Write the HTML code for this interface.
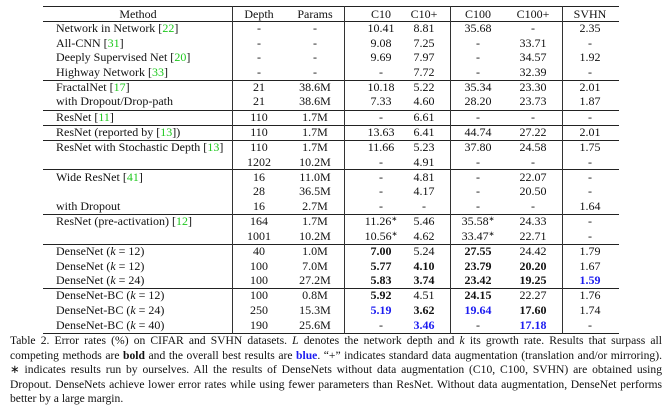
<!DOCTYPE html>
<html><head><meta charset="utf-8">
<style>
body{margin:0;width:664px;height:408px;background:#fff;position:relative;overflow:hidden;font-family:"Liberation Serif",serif;color:#111}
.c{position:absolute;font-size:12px;line-height:14px;white-space:nowrap;transform:translate(-50%,-50%)}
.m{position:absolute;font-size:12px;line-height:14px;white-space:nowrap;transform:translateY(-50%)}
.h{position:absolute;background:#222;height:1px}
.v{position:absolute;background:#333;width:1px}
.g{color:#1ec81e}
.st{font-size:7px;position:relative;top:-4px;line-height:0}
b.bl,.bl{color:#1c1cf0;font-weight:bold}
#cap{position:absolute;left:10px;top:334px;width:652px;font-size:11.6px;line-height:14.6px;text-align:justify;text-align-last:left}
</style></head><body>
<div id="tbl"></div>
<div id="cap">Table 2. Error rates (%) on CIFAR and SVHN datasets. <i>L</i> denotes the network depth and <i>k</i> its growth rate. Results that surpass all competing methods are <b>bold</b> and the overall best results are <span class="bl">blue</span>. “+” indicates standard data augmentation (translation and/or mirroring). ∗ indicates results run by ourselves. All the results of DenseNets without data augmentation (C10, C100, SVHN) are obtained using Dropout. DenseNets achieve lower error rates while using fewer parameters than ResNet. Without data augmentation, DenseNet performs better by a large margin.</div>
<script>
const colX=[259,315,381,424,478,533,590];
const headers=["Depth","Params","C10","C10+","C100","C100+","SVHN"];
const rowY=[28,43,57,72,87,101,117,132,147,162,177,191,206,221,236,251,266,280,295,310,325];
const methods=['Network in Network [<span class="g">22</span>]','All-CNN [<span class="g">31</span>]','Deeply Supervised Net [<span class="g">20</span>]','Highway Network [<span class="g">33</span>]','FractalNet [<span class="g">17</span>]','with Dropout/Drop-path','ResNet [<span class="g">11</span>]','ResNet (reported by [<span class="g">13</span>])','ResNet with Stochastic Depth [<span class="g">13</span>]','','Wide ResNet [<span class="g">41</span>]','','with Dropout','ResNet (pre-activation) [<span class="g">12</span>]','','DenseNet (<i>k</i> = 12)','DenseNet (<i>k</i> = 12)','DenseNet (<i>k</i> = 24)','DenseNet-BC (<i>k</i> = 12)','DenseNet-BC (<i>k</i> = 24)','DenseNet-BC (<i>k</i> = 40)'];
const values=[
["-","-","10.41","8.81","35.68","-","2.35"],
["-","-","9.08","7.25","-","33.71","-"],
["-","-","9.69","7.97","-","34.57","1.92"],
["-","-","-","7.72","-","32.39","-"],
["21","38.6M","10.18","5.22","35.34","23.30","2.01"],
["21","38.6M","7.33","4.60","28.20","23.73","1.87"],
["110","1.7M","-","6.61","-","-","-"],
["110","1.7M","13.63","6.41","44.74","27.22","2.01"],
["110","1.7M","11.66","5.23","37.80","24.58","1.75"],
["1202","10.2M","-","4.91","-","-","-"],
["16","11.0M","-","4.81","-","22.07","-"],
["28","36.5M","-","4.17","-","20.50","-"],
["16","2.7M","-","-","-","-","1.64"],
["164","1.7M","11.26<span class='st'>∗</span>","5.46","35.58<span class='st'>∗</span>","24.33","-"],
["1001","10.2M","10.56<span class='st'>∗</span>","4.62","33.47<span class='st'>∗</span>","22.71","-"],
["40","1.0M","*7.00","5.24","*27.55","24.42","1.79"],
["100","7.0M","*5.77","*4.10","*23.79","*20.20","1.67"],
["100","27.2M","*5.83","*3.74","*23.42","*19.25","!1.59"],
["100","0.8M","*5.92","4.51","*24.15","22.27","1.76"],
["250","15.3M","!5.19","*3.62","!19.64","*17.60","1.74"],
["190","25.6M","-","!3.46","-","!17.18","-"]];
const hLines=[6,21,80,110,125,140,169,214,244,288,333];
const vLines=[232,344,450,562];
const T=document.getElementById('tbl');
function fmt(s){if(s[0]==='*')return '<b>'+s.slice(1)+'</b>';if(s[0]==='!')return '<span class="bl">'+s.slice(1)+'</span>';return s;}
hLines.forEach((y,i)=>{const d=document.createElement('div');d.className='h';


d.style.left='43px';d.style.width='576px';d.style.top=y+'px';T.appendChild(d);});
vLines.forEach(x=>{const d=document.createElement('div');d.className='v';


d.style.left=x+'px';d.style.top='6px';d.style.height='328px';T.appendChild(d);});
let hm=document.createElement('div');hm.className='c';


hm.style.left='138px';hm.style.top='14px';hm.textContent='Method';T.appendChild(hm);
headers.forEach((h,j)=>{const d=document.createElement('div');d.className='c';


d.style.left=colX[j]+'px';d.style.top='14px';d.textContent=h;T.appendChild(d);});
rowY.forEach((y,i)=>{
 const m=document.createElement('div');m.className='m';
 
 
 m.style.left='56px';m.style.top=y+'px';m.innerHTML=methods[i];T.appendChild(m);
 values[i].forEach((v,j)=>{const d=document.createElement('div');d.className='c';
 
 
 d.style.left=colX[j]+'px';d.style.top=y+'px';d.innerHTML=fmt(v);T.appendChild(d);});
});
</script>
</body></html>
